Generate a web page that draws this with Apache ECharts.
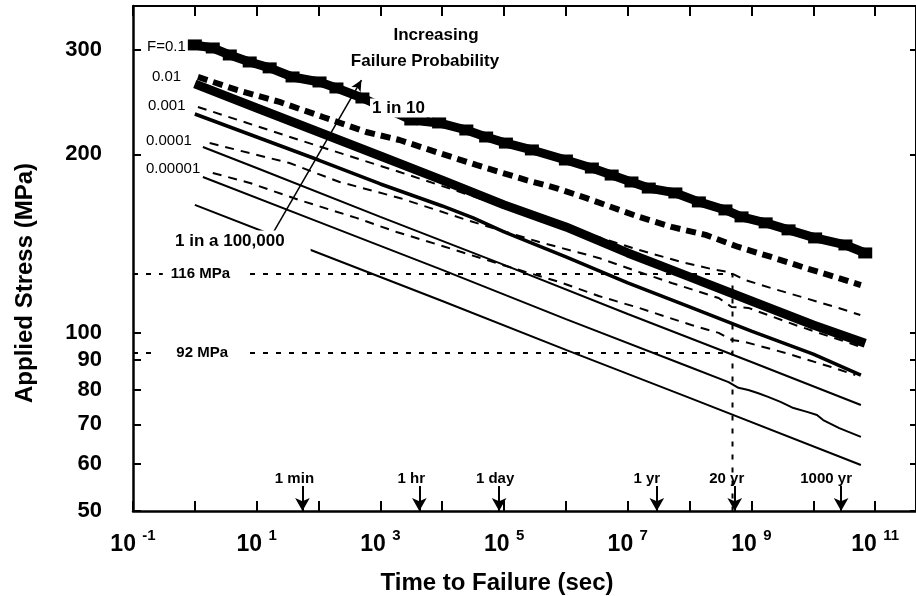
<!DOCTYPE html>
<html><head><meta charset="utf-8">
<script src="https://cdn.jsdelivr.net/npm/echarts@6/dist/echarts.min.js"></script>
<style>html,body{margin:0;padding:0;background:#fff}#c{width:916px;height:596px}</style>
</head><body><div id="c"></div>
<script>
// x values: log10(time to failure in seconds); y values: applied stress in MPa
const f1Time   = [0.00,0.29,0.565,0.887,1.21,1.58,2.016,2.29,2.71,3.5,3.95,4.39,4.71,5.03,5.45,6.0,6.42,6.74,7.06,7.34,7.77,8.15,8.58,8.84,9.23,9.6,10.03,10.52,10.84];
const f1Stress = [305.9,302.3,294.2,286.3,279.8,270.1,264.9,258.8,248.9,228.5,225.9,219.8,213.9,208.9,203.4,195.6,189.6,184.5,179.6,175.4,172.1,166.2,161.1,156.8,153.2,149.1,144.5,140.6,136.3];
const f2Time   = [0.05,0.68,1.37,2.07,2.77,3.31,3.95,4.55,5.36,5.84,6.32,7.18,7.71,8.26,8.79,9.32,9.87,10.4,10.77];
const f2Stress = [270.1,256.8,245.1,231.2,218.1,211.4,201.0,191.9,180.9,175.4,168.8,156.8,150.8,146.2,139.5,134.2,128.6,123.7,120.3];
const f3Time   = [0.05,1.69,3.31,4.92,6.32,7.18,7.87,8.42,8.63,8.9,9.32,9.87,10.4,10.76];
const f3Stress = [240.4,211.4,186.7,164.3,147.3,137.9,131.6,127.6,126.6,122.7,118.9,114.4,110.1,107.1];
const f4Time   = [0.24,1.53,2.34,3.31,4.44,5.57,6.53,7.18,7.71,8.47,8.68,8.95,9.71,10.77];
const f4Stress = [208.9,193.3,179.6,168.8,154.4,142.2,133.7,126.6,121.3,114.4,110.5,110.1,103.0,94.6];
const f5Time   = [0.29,0.89,1.69,2.61,3.26,3.95,4.92,5.89,6.53,7.18,8.03,8.47,8.68,8.9,9.55,10.29,10.68];
const f5Stress = [186.0,178.9,167.4,156.2,147.9,140.6,130.6,121.8,115.3,110.1,103.0,99.9,97.2,96.4,92.4,87.5,84.8];

const s1Time   = [0,1,2,3,4,5,6,7,8,9,10,10.84];
const s1Stress = [262.9,239.4,218.1,198.7,180.9,164.3,150.8,136.3,124.2,113.1,103.0,96.0];
const s2Time   = [0,1,2,3,4,4.5,5,6,7,8,9,10,10.77];
const s2Stress = [233.9,213.9,195.6,178.2,163.6,156.2,147.9,134.2,121.3,110.5,100.6,92.0,84.8];
const s3Time   = [0.13,1,3,5,7,9,10.77];
const s3Stress = [205.7,189.6,156.8,130.1,107.5,89.2,75.5];
const s4Time   = [0.13,2,4,6,8,8.63,8.79,8.95,9.1,9.27,9.47,9.68,9.9,10.06,10.16,10.42,10.77];
const s4Stress = [183.1,153.8,127.6,105.4,87.5,82.5,80.7,80.0,79.1,77.9,76.4,74.6,73.5,72.6,71.2,69.0,66.7];
const s5Time   = [0,2,4,6,8,10.77];
const s5Stress = [164.3,136.3,113.1,93.5,77.6,59.8];

const refHiTime = [-1, 8.694, 8.694];
const refHiStress = [125.6, 125.6, 50];
const refLoTime = [-1, 8.694];
const refLoStress = [92.4, 92.4];

const arrowNames = ['1 min','1 hr','1 day','1 yr','20 yr','1000 yr'];
const arrowTime  = [1.74, 3.63, 4.92, 7.47, 8.73, 10.45];
const arrowTopStress = 55.1;
const arrowBottomStress = 50;
const arrowLabelShift = [8, 8, 4, 10, 8, 15];

const probArrowTime = [1.274, 2.694];
const probArrowStress = [147.9, 266.9];

const yTickValues = [50,60,70,80,90,100,200,300];
const xTickExps = [-1,0,1,2,3,4,5,6,7,8,9,10,11];
const xLabelExps = [-1,1,3,5,7,9,11];
const fLabels = ['F=0.1','0.01','0.001','0.0001','0.00001'];

const X_MIN = -1, X_MAX = 11.661;
const Y_MIN = Math.log10(50), Y_MAX = 2.5513;
const FONT = "'Liberation Sans', Arial, Helvetica, sans-serif";
const L = Math.log10;
const pts = (t, s) => t.map((x, i) => [x, L(s[i])]);

const chart = echarts.init(document.getElementById('c'), null, {renderer: 'canvas'});

function lineSeries(name, t, s, width, type, extra) {
  return Object.assign({
    name, type: 'line', data: pts(t, s), symbol: 'none', showSymbol: false,
    silent: true, animation: false,
    lineStyle: {color: '#000', width: width, type: type, cap: 'butt'}
  }, extra || {});
}

const series = [
  lineSeries('F=0.1', f1Time, f1Stress, 9, 'solid', {
    symbol: 'rect', showSymbol: true, symbolSize: [14, 11], itemStyle: {color: '#000'}
  }),
  lineSeries('0.01', f2Time, f2Stress, 6, [10, 6]),
  lineSeries('0.001', f3Time, f3Stress, 2, [9, 7]),
  lineSeries('0.0001', f4Time, f4Stress, 2, [9, 7]),
  lineSeries('0.00001', f5Time, f5Stress, 2, [9, 7]),
  lineSeries('s1', s1Time, s1Stress, 9, 'solid'),
  lineSeries('s2', s2Time, s2Stress, 3.5, 'solid'),
  lineSeries('s3', s3Time, s3Stress, 2, 'solid'),
  lineSeries('s4', s4Time, s4Stress, 2, 'solid'),
  lineSeries('s5', s5Time, s5Stress, 2, 'solid'),
  lineSeries('ref92', refLoTime, refLoStress, 2, [5, 8]),
  lineSeries('ref116', refHiTime, refHiStress, 2, [5, 8], {
    markLine: {
      silent: true, animation: false,
      symbol: ['none', 'arrow'], symbolSize: [11, 13],
      lineStyle: {color: '#000', width: 2, type: 'solid'},
      label: {show: true, position: 'start', formatter: '{b}', fontSize: 15, fontWeight: 'bold',
              color: '#000', fontFamily: FONT, distance: 0},
      data: arrowNames.map((n, i) => [
        {name: n, coord: [arrowTime[i], L(arrowTopStress)], label: {padding: [0, 2 * arrowLabelShift[i], 0, 0]}},
        {coord: [arrowTime[i], L(arrowBottomStress)]}
      ]).concat([[
        {name: '', coord: [probArrowTime[0], L(probArrowStress[0])], lineStyle: {width: 1.5}, label: {show: false}},
        {coord: [probArrowTime[1], L(probArrowStress[1])], symbolSize: [8, 11]}
      ]])
    }
  })
];

function txt(text, x, y, font, align, extra, rotation) {
  return {type: 'text', x: x, y: y, z: 100, silent: true, rotation: rotation || 0,
    style: Object.assign({text: text, font: font, fill: '#000', textAlign: align || 'left', textVerticalAlign: 'middle'}, extra || {})};
}

const graphic = [
  txt('Applied Stress (MPa)', 25, 283, 'bold 24px ' + FONT, 'center', null, Math.PI / 2),
  txt('Time to Failure (sec)', 497, 583, 'bold 24px ' + FONT, 'center'),
  txt('Increasing', 436, 35, 'bold 17px ' + FONT, 'center'),
  txt('Failure Probability', 425, 61, 'bold 17px ' + FONT, 'center'),
  txt('1 in 10', 370, 108, 'bold 17px ' + FONT, 'left', {backgroundColor: '#fff', padding: [1, 2, 1, 2]}),
  txt('1 in a 100,000', 171, 241, 'bold 17px ' + FONT, 'left', {backgroundColor: '#fff', padding: [2, 26, 2, 4]}),
  txt('116 MPa', 244, 274, 'bold 15px ' + FONT, 'right', {backgroundColor: '#fff', padding: [1, 14, 1, 8]}),
  txt('92 MPa', 242, 353, 'bold 15px ' + FONT, 'right', {backgroundColor: '#fff', padding: [1, 14, 1, 18]}),
  txt(fLabels[0], 147, 47, '15px ' + FONT, 'left'),
  txt(fLabels[1], 152, 77, '15px ' + FONT, 'left'),
  txt(fLabels[2], 148, 106, '15px ' + FONT, 'left'),
  txt(fLabels[3], 146, 141, '15px ' + FONT, 'left'),
  txt(fLabels[4], 146, 169, '15px ' + FONT, 'left')
];

const axisLineStyle = {color: '#000', width: 2.5};
chart.setOption({
  animation: false,
  backgroundColor: '#fff',
  grid: {left: 133, right: -2, top: 6, bottom: 85, containLabel: false},
  xAxis: [{
    type: 'value', position: 'bottom', min: X_MIN, max: X_MAX,
    axisLine: {show: true, onZero: false, lineStyle: axisLineStyle},
    axisTick: {show: true, inside: true, length: 10, customValues: xTickExps, lineStyle: {color: '#000', width: 2}},
    splitLine: {show: false},
    axisLabel: {
      show: true, customValues: xLabelExps, margin: 17, color: '#000', fontSize: 23, fontWeight: 'bold', fontFamily: FONT,
      formatter: v => '{b|10} {s|' + v + '}',
      rich: {
        b: {fontSize: 23, fontWeight: 'bold', fontFamily: FONT, color: '#000', lineHeight: 28, verticalAlign: 'bottom'},
        s: {fontSize: 15, fontWeight: 'bold', fontFamily: FONT, color: '#000', lineHeight: 28, verticalAlign: 'top'}
      }
    }
  }, {
    type: 'value', position: 'top', min: X_MIN, max: X_MAX,
    axisLine: {show: true, onZero: false, lineStyle: {color: '#000', width: 2}},
    axisTick: {show: true, inside: true, length: 10, customValues: xTickExps, lineStyle: {color: '#000', width: 2}},
    splitLine: {show: false}, axisLabel: {show: false}
  }],
  yAxis: [{
    type: 'value', position: 'left', min: Y_MIN, max: Y_MAX,
    axisLine: {show: true, onZero: false, lineStyle: axisLineStyle},
    axisTick: {show: true, inside: true, length: 8, customValues: yTickValues.map(L), lineStyle: {color: '#000', width: 2}},
    splitLine: {show: false},
    axisLabel: {
      show: true, customValues: yTickValues.map(L), margin: 31, color: '#000',
      fontSize: 22, fontWeight: 'bold', fontFamily: FONT,
      formatter: v => String(Math.round(Math.pow(10, v)))
    }
  }, {
    type: 'value', position: 'right', min: Y_MIN, max: Y_MAX,
    axisLine: {show: true, onZero: false, lineStyle: {color: '#000', width: 2}},
    axisTick: {show: true, inside: true, length: 6, customValues: yTickValues.map(L), lineStyle: {color: '#000', width: 2}},
    splitLine: {show: false}, axisLabel: {show: false}
  }],
  series: series,
  graphic: graphic
});
</script>
</body></html>
